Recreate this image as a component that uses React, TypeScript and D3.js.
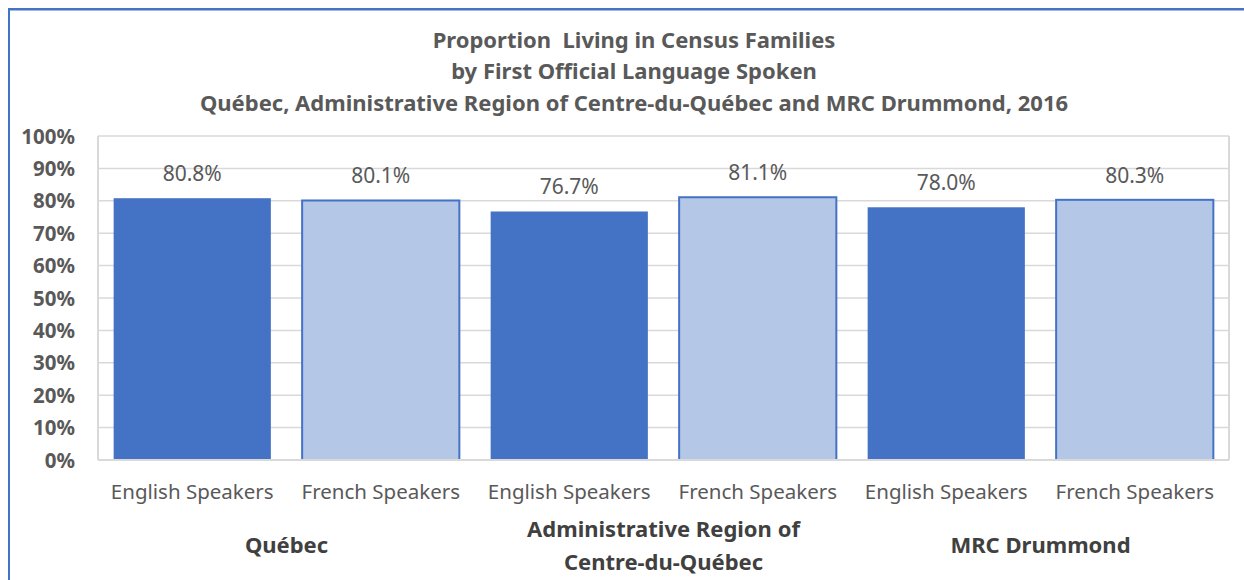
import React from 'react';
import * as d3 from 'd3';

const groups = ['Québec', 'Administrative Region of|Centre-du-Québec', 'MRC Drummond'];
const speakers = ['English Speakers', 'French Speakers'];
const values = [80.8, 80.1, 76.7, 81.1, 78.0, 80.3];
const yTicks = [0, 10, 20, 30, 40, 50, 60, 70, 80, 90, 100];
const titleLines = [
  'Proportion  Living in Census Families',
  'by First Official Language Spoken',
  'Québec, Administrative Region of Centre-du-Québec and MRC Drummond, 2016',
];

const W = 1244;
const H = 580;
const left = 98;
const right = 1229;
const top = 136;
const bottom = 460;
const font = '"Noto Sans", sans-serif';

const App = () => {
  const bars = values.map((v, i) => ({
    v,
    key: i,
    group: Math.floor(i / 2),
    speaker: speakers[i % 2],
  }));

  const x = d3.scaleBand<number>()
    .domain(bars.map(b => b.key))
    .range([left, right])
    .paddingInner(0.166)
    .paddingOuter(0.083);

  const y = d3.scaleLinear().domain([0, 100]).range([bottom, top]);
  const step = x.step();

  return (
    <svg width={W} height={H} style={{ position: 'absolute', left: 0, top: 0 }} fontFamily={font}>
      <rect x={0} y={0} width={W} height={H} fill="#fff" />
      {/* chart frame */}
      <line x1={8} x2={W} y1={9.3} y2={9.3} stroke="#4472c4" strokeWidth={2.5} />
      <line x1={9} x2={9} y1={8} y2={H} stroke="#4472c4" strokeWidth={2} />

      {titleLines.map((t, i) => (
        <text key={i} x={634} y={47.5 + i * 31.5} textAnchor="middle" style={{ whiteSpace: 'pre' }}
          fontSize={22} fontWeight="bold" fill="#595959">{t}</text>
      ))}

      {/* grid */}
      {yTicks.map(t => (
        <g key={t}>
          <line x1={left} x2={right} y1={y(t)} y2={y(t)} stroke="#d9d9d9" strokeWidth={1.5} />
          <text x={left - 23} y={y(t) + 7.5} textAnchor="end" fontSize={20.5} fontWeight="bold" fill="#595959">
            {t}%
          </text>
        </g>
      ))}
      <line x1={left} x2={left} y1={top} y2={bottom} stroke="#d9d9d9" strokeWidth={2} />
      <line x1={right} x2={right} y1={top} y2={bottom} stroke="#d9d9d9" strokeWidth={2} />

      {bars.map(b => {
        const light = b.key % 2 === 1;
        const bx = x(b.key)!;
        return (
          <g key={b.key}>
            <rect x={bx} y={y(b.v)} width={x.bandwidth()} height={bottom - y(b.v)}
              fill={light ? '#b4c7e7' : '#4472c4'}
              stroke={light ? '#4472c4' : 'none'} strokeWidth={2} />
            <text x={bx + x.bandwidth() / 2} y={y(b.v) - 17} textAnchor="middle"
              fontSize={21} fill="#595959">{b.v.toFixed(1)}%</text>
            <text x={bx + x.bandwidth() / 2} y={499} textAnchor="middle"
              fontSize={20.5} fill="#595959">{b.speaker}</text>
          </g>
        );
      })}
      <line x1={left} x2={right} y1={bottom} y2={bottom} stroke="#d9d9d9" strokeWidth={2} />

      {groups.map((g, i) => {
        const cx = left + step * (2 * i + 1);
        const parts = g.split('|');
        const y0 = parts.length === 1 ? 553 : 537;
        return (
          <text key={g} x={cx} textAnchor="middle" fontSize={22} fontWeight="bold" fill="#404040">
            {parts.map((p, j) => (
              <tspan key={j} x={cx} y={y0 + j * 33}>{p}</tspan>
            ))}
          </text>
        );
      })}
    </svg>
  );
};

export default App;
